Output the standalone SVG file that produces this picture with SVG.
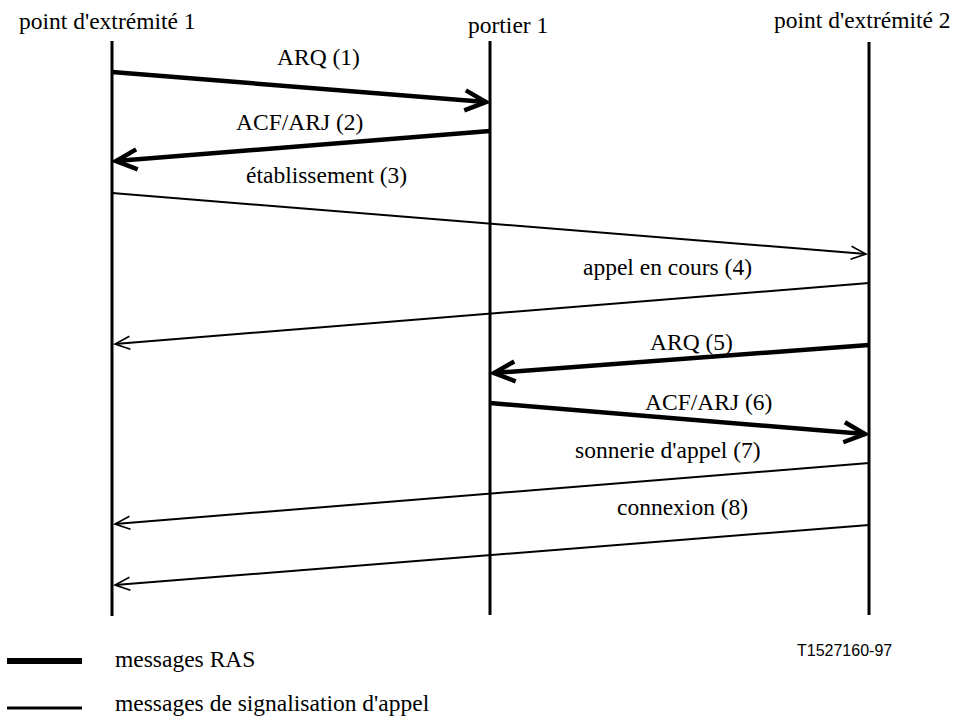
<svg xmlns="http://www.w3.org/2000/svg" width="956" height="716" viewBox="0 0 956 716">
  <style>
    .lbl { font-family: "Liberation Serif", "Times New Roman", Times, "DejaVu Serif", serif; font-size: 23.5px; fill: #000; }
    .ref { font-family: "Liberation Sans", Arial, sans-serif; font-size: 16px; fill: #000; }
    .life { stroke: #000; stroke-width: 3; fill: none; }
    .ras { stroke: #000; stroke-width: 4.5; fill: none; marker-end: url(#headRas); }
    .sig { stroke: #000; stroke-width: 2; fill: none; marker-end: url(#headSig); }
  </style>
  <defs>
    <marker id="headRas" markerUnits="userSpaceOnUse" orient="auto" refX="0" refY="0" markerWidth="30" markerHeight="30" overflow="visible">
      <path d="M -21 -10 L 0 0 L -21 10" fill="none" stroke="#000" stroke-width="4.5" stroke-linejoin="miter"/>
    </marker>
    <marker id="headSig" markerUnits="userSpaceOnUse" orient="auto" refX="0" refY="0" markerWidth="20" markerHeight="20" overflow="visible">
      <path d="M -15 -6.5 L 0 0 L -15 6.5" fill="none" stroke="#000" stroke-width="1.6"/>
    </marker>
  </defs>
  <rect width="956" height="716" fill="#fff"/>

  <!-- participants with lifelines -->
  <g id="endpoint1">
    <text class="lbl" x="19" y="29">point d'extrémité 1</text>
    <line class="life" x1="112" y1="41" x2="112" y2="616"/>
  </g>
  <g id="gatekeeper1">
    <text class="lbl" x="468" y="33">portier 1</text>
    <line class="life" x1="490" y1="41" x2="490" y2="615"/>
  </g>
  <g id="endpoint2">
    <text class="lbl" x="774" y="28">point d'extrémité 2</text>
    <line class="life" x1="869" y1="42" x2="869" y2="615"/>
  </g>

  <!-- messages: thick = RAS, thin = call signalling -->
  <g id="messages">
    <line class="ras" x1="112" y1="72" x2="486" y2="102"/>
    <text class="lbl" x="277" y="65">ARQ (1)</text>

    <line class="ras" x1="490" y1="131" x2="116" y2="161"/>
    <text class="lbl" x="236" y="130">ACF/ARJ (2)</text>

    <line class="sig" x1="112" y1="193" x2="866" y2="254"/>
    <text class="lbl" x="246" y="183">établissement (3)</text>

    <line class="sig" x1="869" y1="283" x2="115" y2="344"/>
    <text class="lbl" x="583" y="275">appel en cours (4)</text>

    <line class="ras" x1="869" y1="345" x2="494" y2="373"/>
    <text class="lbl" x="650" y="350">ARQ (5)</text>

    <line class="ras" x1="490" y1="403" x2="865" y2="434"/>
    <text class="lbl" x="645" y="410">ACF/ARJ (6)</text>

    <line class="sig" x1="869" y1="463" x2="115" y2="524"/>
    <text class="lbl" x="575" y="458">sonnerie d'appel (7)</text>

    <line class="sig" x1="869" y1="525" x2="115" y2="585"/>
    <text class="lbl" x="617" y="515">connexion (8)</text>
  </g>

  <text class="ref" x="797" y="656">T1527160-97</text>

  <!-- legend -->
  <g id="legend">
    <line x1="7" y1="661" x2="82" y2="661" stroke="#000" stroke-width="6"/>
    <text class="lbl" x="115" y="667">messages RAS</text>
    <line x1="7" y1="708" x2="82" y2="708" stroke="#000" stroke-width="3"/>
    <text class="lbl" x="115" y="711">messages de signalisation d'appel</text>
  </g>
</svg>
